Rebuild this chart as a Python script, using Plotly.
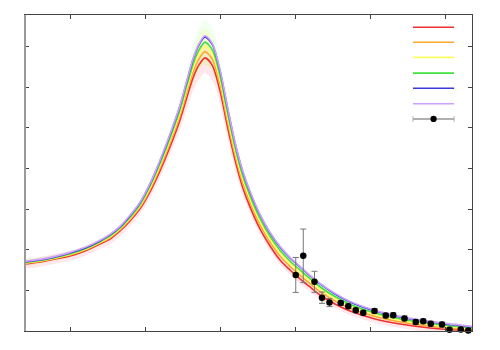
import plotly.graph_objects as go

# ---- data ----
x_grid = [0.4, 0.6, 0.8, 1.0, 1.2, 1.4, 1.533, 1.667, 1.8, 1.933, 2.067, 2.2, 2.333, 2.467,
          2.56, 2.64, 2.72, 2.8, 2.9, 3.0, 3.1, 3.2, 3.3, 3.4, 3.533, 3.667, 3.8, 3.933,
          4.067, 4.2, 4.333, 4.533, 4.733, 5.067, 5.4, 5.8, 6.36]

red_y = [1.650, 1.700, 1.773, 1.847, 1.970, 2.143, 2.266, 2.463, 2.709, 3.006, 3.424, 3.941,
         4.532, 5.197, 5.763, 6.232, 6.551, 6.724, 6.527, 5.911, 5.025, 4.212, 3.547, 3.055,
         2.512, 2.094, 1.749, 1.502, 1.281, 1.084, 0.887, 0.665, 0.493, 0.296, 0.172, 0.074, 0.000]
orange_y = [1.666, 1.715, 1.789, 1.869, 1.992, 2.165, 2.296, 2.493, 2.747, 3.050, 3.483, 4.015,
            4.621, 5.301, 5.882, 6.365, 6.699, 6.879, 6.682, 6.059, 5.165, 4.338, 3.665, 3.165,
            2.616, 2.190, 1.845, 1.591, 1.369, 1.165, 0.968, 0.739, 0.559, 0.355, 0.224, 0.119, 0.030]
yellow_y = [1.678, 1.727, 1.801, 1.888, 2.011, 2.184, 2.321, 2.518, 2.778, 3.087, 3.532, 4.076,
            4.695, 5.387, 5.981, 6.475, 6.822, 7.008, 6.811, 6.182, 5.282, 4.443, 3.764, 3.258,
            2.702, 2.270, 1.925, 1.665, 1.443, 1.233, 1.036, 0.800, 0.614, 0.404, 0.267, 0.155, 0.055]
green_y = [1.688, 1.737, 1.811, 1.903, 2.026, 2.199, 2.340, 2.537, 2.802, 3.116, 3.572, 4.125,
           4.754, 5.456, 6.059, 6.564, 6.921, 7.112, 6.915, 6.281, 5.376, 4.526, 3.842, 3.332,
           2.771, 2.334, 1.989, 1.724, 1.502, 1.287, 1.090, 0.849, 0.659, 0.444, 0.302, 0.185, 0.074]
blue_y = [1.700, 1.749, 1.823, 1.921, 2.044, 2.217, 2.365, 2.562, 2.833, 3.153, 3.621, 4.187,
          4.828, 5.542, 6.158, 6.675, 7.044, 7.241, 7.044, 6.404, 5.493, 4.631, 3.941, 3.424,
          2.857, 2.414, 2.069, 1.798, 1.576, 1.355, 1.158, 0.911, 0.714, 0.493, 0.345, 0.222, 0.099]
purple_y = [1.715, 1.764, 1.838, 1.936, 2.059, 2.232, 2.380, 2.577, 2.848, 3.168, 3.636, 4.202,
            4.843, 5.557, 6.178, 6.700, 7.072, 7.270, 7.072, 6.429, 5.513, 4.646, 3.956, 3.439,
            2.872, 2.429, 2.084, 1.813, 1.591, 1.370, 1.173, 0.926, 0.729, 0.508, 0.360, 0.237, 0.114]

red_err = [0.12, 0.12, 0.12, 0.12, 0.12, 0.12, 0.13, 0.13, 0.13, 0.13, 0.15, 0.17, 0.20, 0.24,
           0.29, 0.33, 0.36, 0.38, 0.36, 0.32, 0.27, 0.22, 0.18, 0.15, 0.13, 0.12, 0.12, 0.12,
           0.12, 0.12, 0.12, 0.10, 0.10, 0.10, 0.10, 0.10, 0.10]
yellow_err = [0.07, 0.07, 0.07, 0.07, 0.07, 0.07, 0.07, 0.07, 0.07, 0.07, 0.10, 0.13, 0.17, 0.22,
              0.30, 0.36, 0.42, 0.44, 0.42, 0.35, 0.27, 0.20, 0.15, 0.12, 0.10, 0.07, 0.07, 0.07,
              0.07, 0.07, 0.07, 0.07, 0.07, 0.07, 0.07, 0.07, 0.07]
green_err = [0.08, 0.08, 0.08, 0.08, 0.08, 0.08, 0.09, 0.09, 0.09, 0.09, 0.12, 0.16, 0.21, 0.28,
             0.37, 0.45, 0.52, 0.55, 0.52, 0.44, 0.34, 0.25, 0.19, 0.15, 0.12, 0.09, 0.09, 0.09,
             0.09, 0.09, 0.09, 0.08, 0.08, 0.08, 0.08, 0.08, 0.08]

pts_x = [4.01, 4.11, 4.26, 4.36, 4.46, 4.61, 4.71, 4.81, 4.91, 5.06, 5.21, 5.31, 5.46, 5.61,
         5.71, 5.81, 5.96, 6.06, 6.21, 6.31]
pts_y = [1.38, 1.85, 1.21, 0.82, 0.70, 0.69, 0.61, 0.51, 0.45, 0.49, 0.38, 0.39, 0.31, 0.22,
         0.24, 0.18, 0.16, 0.03, 0.04, 0.01]
pts_err = [0.43, 0.66, 0.26, 0.14, 0.10, 0.06, 0.06, 0.06, 0.06, 0.06, 0.06, 0.06, 0.06, 0.06,
           0.06, 0.06, 0.06, 0.06, 0.06, 0.06]

x_ticks = [1, 2, 3, 4, 5, 6]
y_ticks = [0, 1, 2, 3, 4, 5, 6, 7]

# ---- styles ----
curves = [
    (red_y, "#f03030"),
    (orange_y, "#ffa830"),
    (yellow_y, "#ffff60"),
    (green_y, "#40e040"),
    (blue_y, "#3a3ad8"),
    (purple_y, "#cfa0ff"),
]
bands = [
    (red_y, red_err, "rgba(255,40,70,0.11)"),
    (yellow_y, yellow_err, "rgba(255,255,60,0.14)"),
    (green_y, green_err, "rgba(60,255,60,0.07)"),
]

fig = go.Figure()

for yv, ev, col in bands:
    hi = [a + b for a, b in zip(yv, ev)]
    lo = [a - b for a, b in zip(yv, ev)]
    fig.add_trace(go.Scatter(x=x_grid, y=hi, mode="lines", line=dict(width=0, shape="spline"),
                             hoverinfo="skip", showlegend=False))
    fig.add_trace(go.Scatter(x=x_grid, y=lo, mode="lines", line=dict(width=0, shape="spline"),
                             fill="tonexty", fillcolor=col, hoverinfo="skip", showlegend=False))

for yv, col in curves:
    fig.add_trace(go.Scatter(x=x_grid, y=yv, mode="lines",
                             line=dict(color=col, width=1.6, shape="spline", smoothing=0.8),
                             showlegend=False))

fig.add_trace(go.Scatter(
    x=pts_x, y=pts_y, mode="markers",
    marker=dict(color="black", size=6.5),
    error_y=dict(type="data", array=pts_err, color="#777777", thickness=1, width=3),
    cliponaxis=False, showlegend=False))

# ---- legend keys (no text in the reference) ----
leg_x0, leg_x1 = 0.868, 0.960
leg_rows = [0.961, 0.914, 0.866, 0.816, 0.768, 0.719]
shapes = []
for (yv, col), ly in zip(curves, leg_rows):
    shapes.append(dict(type="line", xref="paper", yref="paper", x0=leg_x0, x1=leg_x1,
                       y0=ly, y1=ly, line=dict(color=col, width=1.6)))
ly = 0.671
shapes.append(dict(type="line", xref="paper", yref="paper", x0=leg_x0, x1=leg_x1,
                   y0=ly, y1=ly, line=dict(color="#b0b0b0", width=2)))
for xx in (leg_x0, leg_x1):
    shapes.append(dict(type="line", xref="paper", yref="paper", x0=xx, x1=xx,
                       y0=ly - 0.009, y1=ly + 0.009, line=dict(color="#b0b0b0", width=1)))
cx = (leg_x0 + leg_x1) / 2
shapes.append(dict(type="circle", xref="paper", yref="paper", x0=cx - 0.007, x1=cx + 0.007,
                   y0=ly - 0.0098, y1=ly + 0.0098, fillcolor="black", line=dict(width=0)))
# left axis drawn in lighter grey and thicker
shapes.append(dict(type="line", xref="paper", yref="paper", x0=0, x1=0, y0=0, y1=1,
                   line=dict(color="#9a9a9a", width=2)))

fig.update_layout(
    width=500, height=350,
    margin=dict(l=25, r=28, t=15, b=19),
    paper_bgcolor="white", plot_bgcolor="white",
    showlegend=False,
    shapes=shapes,
    xaxis=dict(range=[0.4, 6.36], tickvals=x_ticks, showticklabels=False,
               ticks="inside", ticklen=4, tickcolor="#444444", showgrid=False, zeroline=False,
               showline=True, linecolor="#444444", linewidth=1, mirror="ticks"),
    yaxis=dict(range=[0, 7.78], tickvals=y_ticks, showticklabels=False,
               ticks="inside", ticklen=4, tickcolor="#444444", showgrid=False, zeroline=False,
               showline=True, linecolor="#444444", linewidth=1, mirror="ticks"),
)

fig.write_html(
    "out.html",
    config={"displayModeBar": False},
    post_script="document.body.style.margin='0';document.body.style.padding='0';"
                "document.body.style.overflow='hidden';",
)
